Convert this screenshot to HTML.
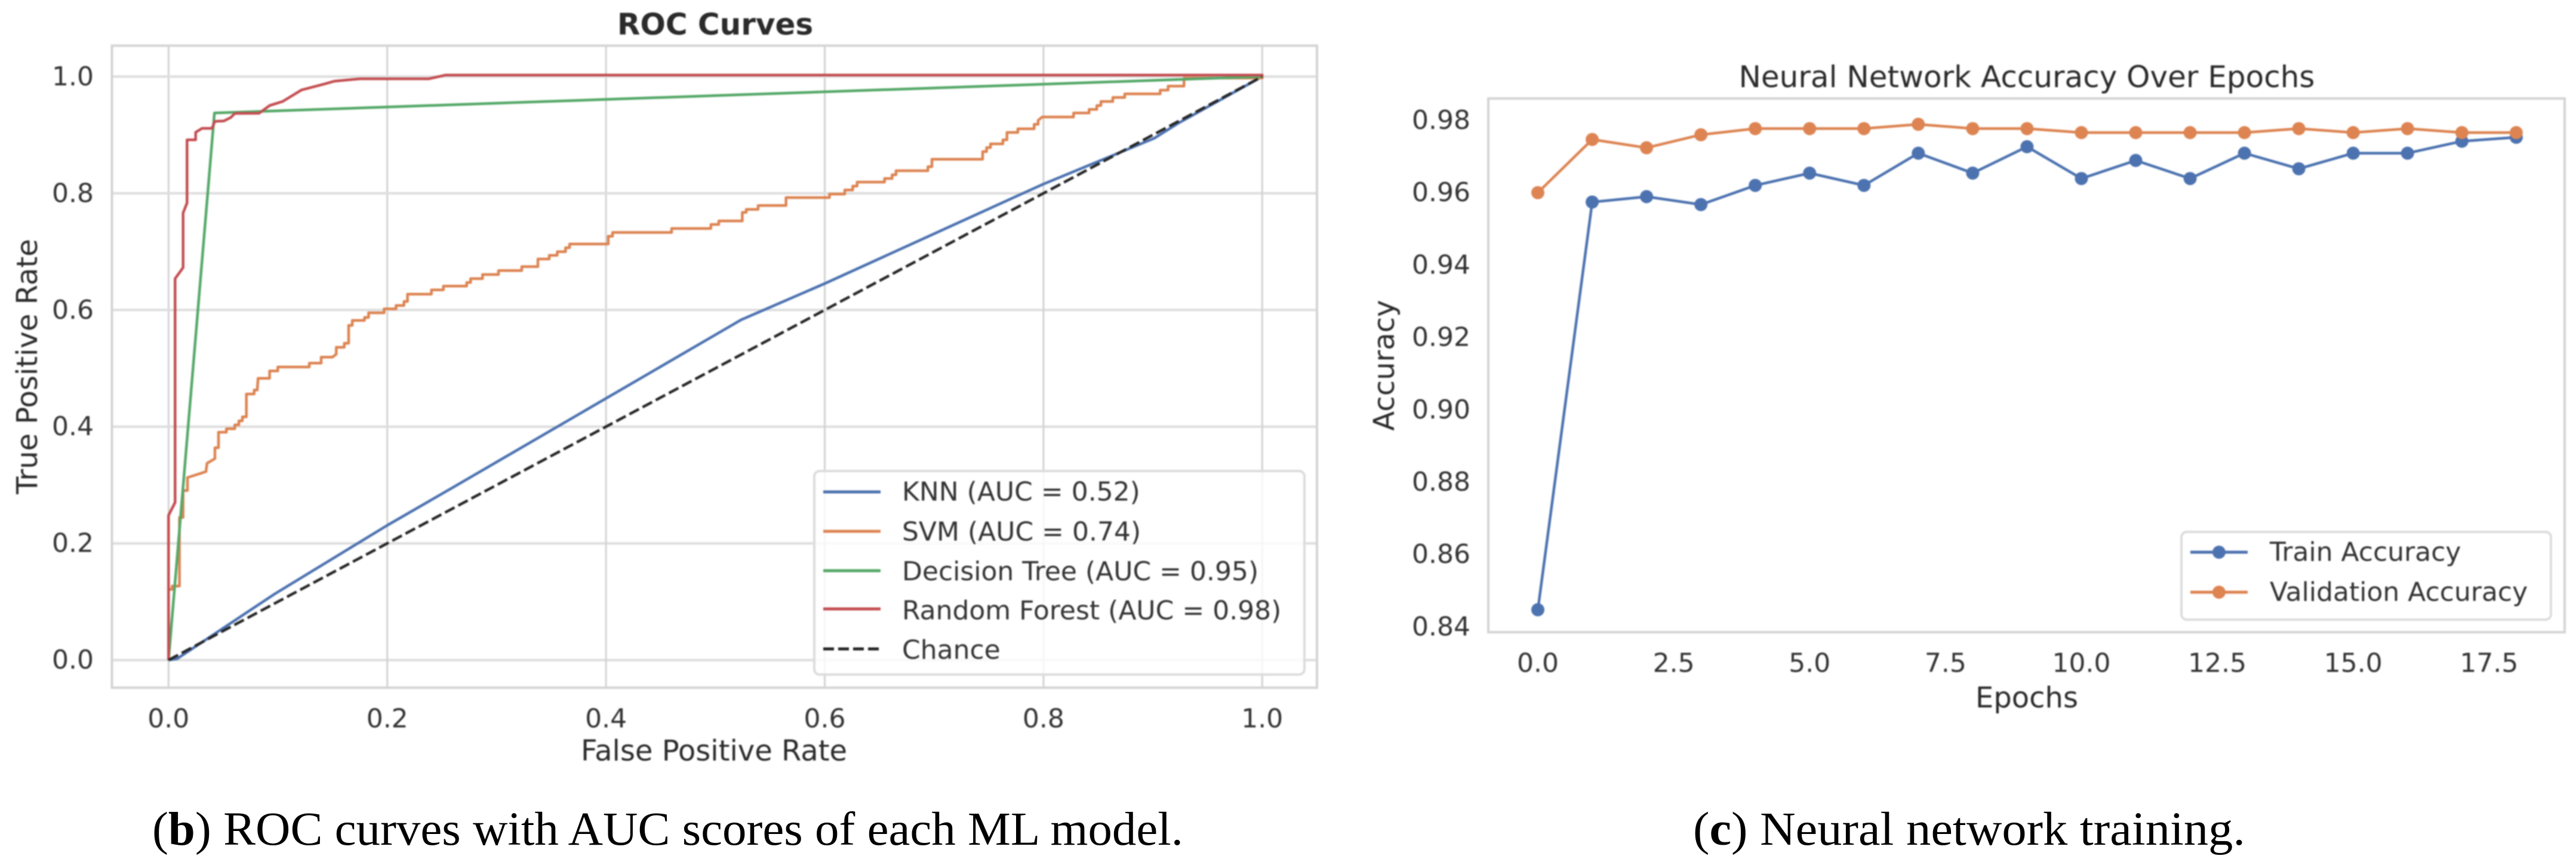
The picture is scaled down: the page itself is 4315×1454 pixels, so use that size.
<!DOCTYPE html>
<html lang="en">
<head>
<meta charset="utf-8">
<title>ROC curves and neural network training</title>
<style>
html,body{margin:0;padding:0;background:#fff;}
body{width:4315px;height:1454px;overflow:hidden;}
svg{display:block;}
text{font-family:"DejaVu Sans","Liberation Sans",sans-serif;fill:#2b2b2b;}
.tick{font-size:44px;dominant-baseline:central;fill:#333;}
.label{font-size:48px;text-anchor:middle;dominant-baseline:central;fill:#2b2b2b;}
.title{font-size:50px;text-anchor:middle;dominant-baseline:central;}
.legend-text{font-size:44px;dominant-baseline:central;fill:#333;}
.caption{font-family:"Liberation Serif",serif;font-size:79px;fill:#000;}
#plots{filter:blur(1px);}
</style>
</head>
<body>
<svg id="fig" xmlns="http://www.w3.org/2000/svg" width="4315" height="1454" viewBox="0 0 4315 1454">
  <rect width="4315" height="1454" fill="#fff"/>
  <g id="plots">
    <g id="roc">
      <g id="roc-grid"></g>
      <rect x="187.5" y="76.5" width="2018.5" height="1075.5" fill="none" stroke="#d4d4d4" stroke-width="4"/>
      <g id="roc-ticks"></g>
      <g id="roc-lines"></g>
      <text class="title" x="1198" y="41" font-weight="bold" style="font-weight:bold">ROC Curves</text>
      <text class="label" x="1196" y="1258">False Positive Rate</text>
      <text class="label" transform="translate(46 614) rotate(-90)">True Positive Rate</text>
      <g>
        <rect x="1364" y="789" width="821" height="341" rx="9" fill="#fff" fill-opacity="0.8" stroke="#dcdcdc" stroke-width="4"/>
        <line x1="1379" x2="1475" y1="824" y2="824" stroke="#4c72b0" stroke-width="5"/>
        <text class="legend-text" x="1511" y="824">KNN (AUC = 0.52)</text>
        <line x1="1379" x2="1475" y1="890" y2="890" stroke="#dd8452" stroke-width="5"/>
        <text class="legend-text" x="1511" y="891">SVM (AUC = 0.74)</text>
        <line x1="1379" x2="1475" y1="956" y2="956" stroke="#55a868" stroke-width="5"/>
        <text class="legend-text" x="1511" y="957.5">Decision Tree (AUC = 0.95)</text>
        <line x1="1379" x2="1475" y1="1020" y2="1020" stroke="#c44e52" stroke-width="5"/>
        <text class="legend-text" x="1511" y="1023">Random Forest (AUC = 0.98)</text>
        <line x1="1379" x2="1475" y1="1087" y2="1087" stroke="#262626" stroke-width="5" stroke-dasharray="18 7"/>
        <text class="legend-text" x="1511" y="1089">Chance</text>
      </g>
    </g>
    <g id="acc">
      <rect x="2493" y="165" width="1803" height="894" fill="none" stroke="#d4d4d4" stroke-width="4"/>
      <g id="acc-ticks"></g>
      <g id="acc-lines"></g>
      <text class="title" x="3395" y="129">Neural Network Accuracy Over Epochs</text>
      <text class="label" x="3395" y="1169">Epochs</text>
      <text class="label" transform="translate(2319 612) rotate(-90)">Accuracy</text>
      <g>
        <rect x="3654" y="891" width="619" height="147" rx="9" fill="#fff" fill-opacity="0.8" stroke="#dcdcdc" stroke-width="4"/>
        <line x1="3669" x2="3765" y1="925" y2="925" stroke="#4c72b0" stroke-width="5"/>
        <circle cx="3717" cy="925" r="11" fill="#4c72b0"/>
        <text class="legend-text" x="3802" y="925">Train Accuracy</text>
        <line x1="3669" x2="3765" y1="992" y2="992" stroke="#dd8452" stroke-width="5"/>
        <circle cx="3717" cy="992" r="11" fill="#dd8452"/>
        <text class="legend-text" x="3802" y="992">Validation Accuracy</text>
      </g>
    </g>
  </g>
  <text class="caption" x="255" y="1415" textLength="1727" lengthAdjust="spacingAndGlyphs">(<tspan font-weight="bold">b</tspan>) ROC curves with AUC scores of each ML model.</text>
  <text class="caption" x="2836" y="1415" textLength="925" lengthAdjust="spacingAndGlyphs">(<tspan font-weight="bold">c</tspan>) Neural network training.</text>
</svg>
<script>
/* ROC chart data */
const rocTicks = [0, 0.2, 0.4, 0.6, 0.8, 1];
const rocTickLabels = ['0.0', '0.2', '0.4', '0.6', '0.8', '1.0'];
const knnCurve = [[0,0],[0.0079,0.0024],[0.097,0.1133],[0.2,0.2309],[0.2608,0.2967],[0.5236,0.5832],[0.6,0.6453],[0.7738,0.7936],[0.8,0.8158],[0.9012,0.8942],[0.923,0.9198],[1,1]];
const svmCurve = [[0,0],[0,0.1211],[0.0033,0.1211],[0.0033,0.1269],[0.01,0.1269],[0.01,0.2445],[0.0133,0.2445],[0.0133,0.2906],[0.0173,0.2906],[0.0173,0.3128],[0.0342,0.323],[0.0352,0.3373],[0.0424,0.3452],[0.0424,0.3639],[0.0457,0.3639],[0.0457,0.3905],[0.0529,0.3905],[0.0529,0.3964],[0.0606,0.3964],[0.0606,0.4031],[0.0643,0.4031],[0.0643,0.41],[0.0675,0.41],[0.0675,0.4168],[0.0712,0.4168],[0.0712,0.456],[0.0783,0.456],[0.0783,0.4628],[0.0811,0.4628],[0.0819,0.4829],[0.0924,0.4829],[0.0924,0.4955],[0.0999,0.4955],[0.0999,0.5023],[0.1287,0.5023],[0.1287,0.509],[0.1396,0.509],[0.1396,0.5191],[0.1498,0.5191],[0.1534,0.5242],[0.1534,0.5361],[0.1607,0.5361],[0.1607,0.543],[0.1647,0.543],[0.1647,0.5737],[0.168,0.5737],[0.168,0.5822],[0.1792,0.5822],[0.1792,0.5873],[0.1829,0.5873],[0.1829,0.5951],[0.1971,0.5951],[0.1971,0.6019],[0.208,0.6019],[0.208,0.6077],[0.2153,0.6077],[0.2153,0.6146],[0.2185,0.6146],[0.2185,0.6272],[0.2404,0.6272],[0.2404,0.6344],[0.2513,0.6344],[0.2513,0.6409],[0.2726,0.6409],[0.2726,0.647],[0.2762,0.647],[0.2762,0.6538],[0.2871,0.6538],[0.2871,0.6607],[0.3017,0.6607],[0.3017,0.6675],[0.323,0.6675],[0.323,0.6743],[0.3377,0.6743],[0.3377,0.6873],[0.3481,0.6873],[0.3481,0.6937],[0.3554,0.6937],[0.3554,0.6999],[0.363,0.6999],[0.363,0.7067],[0.3667,0.7067],[0.3667,0.7131],[0.4021,0.7131],[0.4021,0.7264],[0.406,0.7264],[0.406,0.7329],[0.46,0.7329],[0.46,0.7397],[0.4959,0.7397],[0.4959,0.7466],[0.5031,0.7466],[0.5031,0.7526],[0.5246,0.7526],[0.5246,0.7672],[0.5282,0.7672],[0.5282,0.7725],[0.5391,0.7725],[0.5391,0.779],[0.5646,0.779],[0.5646,0.7926],[0.6043,0.7926],[0.6043,0.7987],[0.6183,0.7987],[0.6183,0.8056],[0.6256,0.8056],[0.6256,0.8124],[0.6296,0.8124],[0.6296,0.8192],[0.6547,0.8192],[0.6547,0.8254],[0.6616,0.8254],[0.6616,0.8318],[0.6652,0.8318],[0.6652,0.8387],[0.6943,0.8387],[0.6943,0.8455],[0.698,0.8455],[0.698,0.8584],[0.7444,0.8584],[0.7444,0.8714],[0.748,0.8714],[0.748,0.8783],[0.7516,0.8783],[0.7516,0.8847],[0.7629,0.8847],[0.7629,0.8916],[0.7666,0.8916],[0.7666,0.9042],[0.7766,0.9042],[0.7766,0.9106],[0.7915,0.9106],[0.7915,0.9181],[0.7951,0.9181],[0.7951,0.9249],[0.7988,0.9307],[0.8275,0.9307],[0.8275,0.9376],[0.8417,0.9376],[0.8417,0.9437],[0.8488,0.9437],[0.8488,0.9505],[0.8525,0.9505],[0.8525,0.9573],[0.8634,0.9573],[0.8634,0.9642],[0.8743,0.9642],[0.8743,0.9703],[0.9067,0.9703],[0.9067,0.9768],[0.914,0.9768],[0.914,0.9836],[0.9285,0.9836],[0.9285,0.9975],[1,0.9975],[1,1]];
const treeCurve = [[0,0],[0.042,0.9376],[1,1]];
const forestCurve = [[0,0],[0,0.248],[0.006,0.2701],[0.006,0.6538],[0.0133,0.6726],[0.0133,0.7663],[0.0169,0.7834],[0.0169,0.8915],[0.0248,0.8915],[0.0248,0.9044],[0.0306,0.9113],[0.0397,0.9113],[0.0424,0.9233],[0.0506,0.924],[0.057,0.93],[0.0606,0.9369],[0.0828,0.9372],[0.0925,0.9505],[0.1043,0.9573],[0.1216,0.9771],[0.1425,0.9873],[0.1516,0.9921],[0.1752,0.9962],[0.238,0.9962],[0.2535,1.0027],[1,1.0027],[1,1]];
const chanceCurve = [[0,0],[1,1]];

/* Accuracy chart data */
const epochs = [0,1,2,3,4,5,6,7,8,9,10,11,12,13,14,15,16,17,18];
const trainAccuracy = [0.8447,0.9574,0.9589,0.9567,0.962,0.9654,0.962,0.9709,0.9654,0.9727,0.9639,0.9689,0.9639,0.9709,0.9666,0.9709,0.9709,0.9742,0.9753];
const validationAccuracy = [0.96,0.9747,0.9724,0.976,0.9777,0.9777,0.9777,0.9789,0.9777,0.9777,0.9766,0.9766,0.9766,0.9766,0.9777,0.9766,0.9777,0.9766,0.9766];
const accXTicks = [0,2.5,5,7.5,10,12.5,15,17.5];
const accXTickLabels = ['0.0','2.5','5.0','7.5','10.0','12.5','15.0','17.5'];
const accYTicks = [0.84,0.86,0.88,0.9,0.92,0.94,0.96,0.98];
const accYTickLabels = ['0.84','0.86','0.88','0.90','0.92','0.94','0.96','0.98'];

const SVGNS = 'http://www.w3.org/2000/svg';
function rocX(v){ return 282.3 + v * 1832; }
function rocY(v){ return 1105.7 - v * 977.4; }
function accX(v){ return 2576 + v * 91.05; }
function accY(v){ return 201.5 + (0.98 - v) * 6060; }
function make(tag, parent){
  const el = document.createElementNS(SVGNS, tag);
  parent.appendChild(el);
  return el;
}
function curvePath(points){
  return points.map(function(p, i){
    return (i ? 'L' : 'M') + rocX(p[0]).toFixed(1) + ' ' + rocY(p[1]).toFixed(1);
  }).join('');
}
function seriesPath(xs, ys){
  return xs.map(function(x, i){
    return (i ? 'L' : 'M') + accX(x).toFixed(1) + ' ' + accY(ys[i]).toFixed(1);
  }).join('');
}

const rocGrid = document.getElementById('roc-grid');
const rocTickGroup = document.getElementById('roc-ticks');
rocTicks.forEach(function(t, i){
  const v = make('line', rocGrid);
  
  
  v.setAttribute('x1', rocX(t));
  v.setAttribute('x2', rocX(t));
  v.setAttribute('y1', 76.5);
  v.setAttribute('y2', 1152);
  v.setAttribute('stroke', '#d2d2d2');
  v.setAttribute('stroke-width', 3);
  const h = make('line', rocGrid);
  
  
  h.setAttribute('x1', 187.5);
  h.setAttribute('x2', 2206);
  h.setAttribute('y1', rocY(t));
  h.setAttribute('y2', rocY(t));
  h.setAttribute('stroke', '#dedede');
  h.setAttribute('stroke-width', 4);
  const xl = make('text', rocTickGroup);
  
  
  xl.setAttribute('class', 'tick');
  xl.setAttribute('x', rocX(t));
  xl.setAttribute('y', 1204);
  xl.setAttribute('text-anchor', 'middle');
  xl.textContent = rocTickLabels[i];
  const yl = make('text', rocTickGroup);
  
  
  yl.setAttribute('class', 'tick');
  yl.setAttribute('x', 157);
  yl.setAttribute('y', rocY(t));
  yl.setAttribute('text-anchor', 'end');
  yl.textContent = rocTickLabels[i];
});

const rocLines = document.getElementById('roc-lines');
function addRocCurve(points, color, dash){
  const p = make('path', rocLines);
  p.setAttribute('d', curvePath(points));
  p.setAttribute('fill', 'none');
  p.setAttribute('stroke', color);
  p.setAttribute('stroke-width', 4.5);
  p.setAttribute('stroke-linejoin', 'round');
  if (dash) p.setAttribute('stroke-dasharray', dash);
  return p;
}
const knnLine = addRocCurve(knnCurve, '#4c72b0');


const svmLine = addRocCurve(svmCurve, '#dd8452');


const treeLine = addRocCurve(treeCurve, '#55a868');


const forestLine = addRocCurve(forestCurve, '#c44e52');


const chanceLine = addRocCurve(chanceCurve, '#262626', '18 7');



const accTickGroup = document.getElementById('acc-ticks');
accXTicks.forEach(function(t, i){
  const xl = make('text', accTickGroup);
  
  
  xl.setAttribute('class', 'tick');
  xl.setAttribute('x', accX(t));
  xl.setAttribute('y', 1111);
  xl.setAttribute('text-anchor', 'middle');
  xl.textContent = accXTickLabels[i];
});
accYTicks.forEach(function(t, i){
  const yl = make('text', accTickGroup);
  
  
  yl.setAttribute('class', 'tick');
  yl.setAttribute('x', 2463);
  yl.setAttribute('y', accY(t));
  yl.setAttribute('text-anchor', 'end');
  yl.textContent = accYTickLabels[i];
});

const accLines = document.getElementById('acc-lines');
function addSeries(values, color, lineName, pointName){
  const p = make('path', accLines);
  
  
  p.setAttribute('d', seriesPath(epochs, values));
  p.setAttribute('fill', 'none');
  p.setAttribute('stroke', color);
  p.setAttribute('stroke-width', 4.5);
  p.setAttribute('stroke-linejoin', 'round');
  values.forEach(function(v, i){
    const c = make('circle', accLines);
    
    
    c.setAttribute('cx', accX(epochs[i]));
    c.setAttribute('cy', accY(v));
    c.setAttribute('r', 11);
    c.setAttribute('fill', color);
  });
}
addSeries(trainAccuracy, '#4c72b0', 'train-accuracy-line', 'train-accuracy-point');
addSeries(validationAccuracy, '#dd8452', 'validation-accuracy-line', 'validation-accuracy-point');
</script>
</body>
</html>
